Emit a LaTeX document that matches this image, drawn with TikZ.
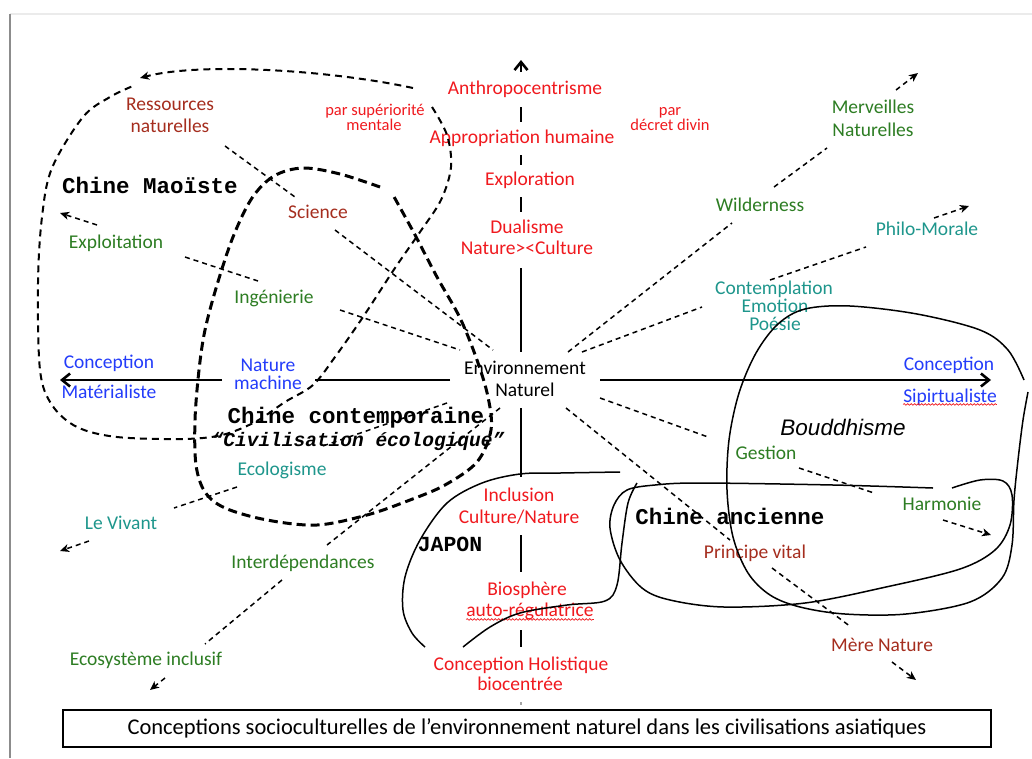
\documentclass[tikz,border=0pt]{standalone}
\usepackage{fontspec}
\setmainfont{Carlito}
\newfontfamily\courf{Liberation Mono}
\newfontfamily\arialf{Liberation Sans}
\usetikzlibrary{arrows.meta,calc,decorations.pathmorphing}
\definecolor{cred}{RGB}{240,25,30}
\definecolor{cdred}{RGB}{165,45,30}
\definecolor{cgreen}{RGB}{45,125,35}
\definecolor{cteal}{RGB}{30,150,140}
\definecolor{cblue}{RGB}{35,60,250}
\begin{document}
\begin{tikzpicture}[x=1pt,y=-1pt,
  lab/.style={inner sep=0pt, text height=0.65em, text depth=0pt, font=\fontsize{19.5}{22}\selectfont},
  small/.style={lab, font=\fontsize{16.5}{18}\selectfont},
  cour/.style={lab, font=\fontsize{22.5}{24}\selectfont\courf\bfseries},
  axis/.style={line width=2.6pt},
  dl/.style={line width=1.5pt, dash pattern=on 5pt off 4pt},
  dla/.style={dl, -dtip},
  mao/.style={line width=2pt, dash pattern=on 7pt off 5pt},
  maothick/.style={line width=3pt, dash pattern=on 9pt off 5pt},
  outline/.style={line width=1.5pt},
  wavy/.style={cred, line width=0.7pt, decorate, decoration={snake, amplitude=0.8pt, segment length=3.5pt}},
  axtip/.tip={Straight Barb[length=8pt,width=13pt]},
  dtip/.tip={Stealth[length=9pt,width=8pt,inset=2.5pt]}
]
\useasboundingbox (0,0) rectangle (1032,758);
\fill[white] (0,0) rectangle (1032,758);
% page frame
\draw[black!8, line width=1.5pt] (10,14) -- (1032,14);
\draw[black!45, line width=2.5pt] (10,14) -- (10,758);

% axis reference points
\coordinate (ax) at (521,0);
\coordinate (hy) at (0,380);
\coordinate (vtop) at (521,60);
\coordinate (hleft) at (60,380);
\coordinate (hright) at (991,380);

% labels on the vertical axis
\node[lab, cred] (anthro) at (525,91) {Anthropocentrisme};
\node[lab, cred] (appro) at (522,140) {Appropriation humaine};
\node[lab, cred] (explo) at (530,182) {Exploration};
\node[lab, cred] (dual1) at (527,230) {Dualisme};
\node[lab, cred] (dual2) at (527,251) {Nature><Culture};
\node[lab] (env1) at (525,371) {Environnement};
\node[lab] (env2) at (525,393) {Naturel};
\node[lab, cred] (incl1) at (519,498) {Inclusion};
\node[lab, cred] (incl2) at (519,520) {Culture/Nature};
\node[lab, cred] (bio1) at (527,592) {Biosphère};
\node[lab, cred] (bio2) at (530,613) {auto-régulatrice};
\node[lab, cred] (holi1) at (521,667) {Conception Holistique};
\node[lab, cred] (holi2) at (520,687) {biocentrée};

% other labels
\node[small, cred] (sup1) at (375,112) {par supériorité};
\node[small, cred] (sup2) at (374,127) {mentale};
\node[small, cred] (div1) at (670,112) {par};
\node[small, cred] (div2) at (670,127) {décret divin};
\node[lab, cdred] (ress1) at (170,107) {Ressources};
\node[lab, cdred] (ress2) at (170,129) {naturelles};
\node[cour] (maoiste) at (150,190) {Chine Maoïste};
\node[lab, cdred] (science) at (318,215) {Science};
\node[lab, cgreen] (exploit) at (116,245) {Exploitation};
\node[lab, cgreen] (ingen) at (274,300) {Ingénierie};
\node[lab, cblue] (concl) at (109,365) {Conception};
\node[lab, cblue] (mater) at (109,395) {Matérialiste};
\node[lab, cblue] (natm1) at (268,368) {Nature};
\node[lab, cblue] (natm2) at (268,386) {machine};
\node[cour] (contemp) at (356,420) {Chine contemporaine};
\node[lab, font=\fontsize{19.5}{22}\selectfont\courf\bfseries\itshape] (civil) at (358,443) {“Civilisation écologique”};
\node[lab, cteal] (ecolog) at (282,472) {Ecologisme};
\node[lab, cteal] (vivant) at (121,526) {Le Vivant};
\node[lab, cgreen] (interd) at (303,565) {Interdépendances};
\node[lab, cgreen] (ecosys) at (146,662) {Ecosystème inclusif};
\node[cour, font=\fontsize{21.5}{24}\selectfont\courf\bfseries] (japon) at (450,548) {JAPON};
\node[lab, cgreen] (merv1) at (873,110) {Merveilles};
\node[lab, cgreen] (merv2) at (873,133) {Naturelles};
\node[lab, cgreen] (wild) at (760,208) {Wilderness};
\node[lab, cteal] (philo) at (927,232) {Philo-Morale};
\node[lab, cteal] (contpl1) at (774,291) {Contemplation};
\node[lab, cteal] (contpl2) at (775,309) {Emotion};
\node[lab, cteal] (contpl3) at (775,327) {Poésie};
\node[lab, cblue] (concr) at (949,367) {Conception};
\node[lab, cblue] (spirit) at (950,399) {Sipirtualiste};
\node[lab, font=\fontsize{22.5}{24}\selectfont\arialf\itshape] (boud) at (843,432) {Bouddhisme};
\node[lab, cgreen] (gestion) at (766,456) {Gestion};
\node[lab, cgreen] (harmonie) at (942,507) {Harmonie};
\node[cour] (ancienne) at (730,521) {Chine ancienne};
\node[lab, cdred] (principe) at (755,555) {Principe vital};
\node[lab, cdred] (mere) at (882,648) {Mère Nature};

% caption
\node[draw, line width=1.2pt, minimum width=928pt, minimum height=37pt, inner sep=0pt,
  font=\fontsize{22.5}{24}\selectfont] (cap) at (527,728.5)
  {Conceptions socioculturelles de l’environnement naturel dans les civilisations asiatiques};

% spelling marks
\draw[wavy] ($(spirit.south west)+(0,2)$) -- ($(spirit.south east)+(0,2)$);
\draw[wavy] ($(bio2.south west)+(0,3)$) -- ($(bio2.south east)+(0,3)$);

% vertical axis
\draw[axis, -axtip] ($(ax |- anthro)+(0,-19)$) -- (vtop);
\draw[axis] ($(ax |- anthro)+(0,16)$) -- ($(ax |- appro)+(0,-18)$);
\draw[axis] ($(ax |- appro)+(0,15)$) -- ($(ax |- explo)+(0,-17)$);
\draw[axis] ($(ax |- explo)+(0,15)$) -- ($(ax |- dual1)+(0,-18)$);
\draw[axis] ($(ax |- dual2)+(0,17)$) -- ($(ax |- env1)+(0,-19)$);
\draw[axis] ($(ax |- env2)+(0,15)$) -- ($(ax |- incl1)+(0,-21)$);
\draw[axis] ($(ax |- incl2)+(0,15)$) -- ($(ax |- bio1)+(0,-20)$);
\draw[axis] ($(ax |- bio2)+(0,17)$) -- ($(ax |- holi1)+(0,-20)$);
\draw[axis, black!35, line width=1.5pt] ($(ax |- holi2)+(0,15)$) -- ($(ax |- holi2)+(0,18)$);

% horizontal axis
\draw[axis] ($(hy -| env1)+(-75,0)$) -- ($(hy -| natm2)+(47,0)$);
\draw[axis, -axtip] ($(hy -| natm2)+(-46,0)$) -- (hleft);
\draw[axis, -axtip] ($(hy -| env1)+(75,0)$) -- (hright);

% regions
\draw[mao, -dtip] (413,88) .. controls (330,70) and (200,62) .. (140,78);
\draw[mao] plot[smooth, tension=0.55] coordinates {(432,107) (447,135) (451,167) (441,200) (420,232) (395,268) (363,317) (335,357) (313,385) (285,402) (255,422) (222,435) (183,439) (117,437) (77,427) (52,405) (40,370) (38,283) (42,217) (52,168) (83,117) (110,97) (133,86)};
\draw[maothick] plot[smooth, tension=0.55] coordinates {(380,187) (340,174) (303,168) (274,176) (252,198) (233,237) (217,285) (205,330) (199,370) (195,420) (196,465) (205,492) (225,508) (267,520) (317,525) (367,515) (410,500) (445,485) (477,462) (491,430) (488,397) (477,360) (460,318) (437,277) (414,233) (393,195)};
\draw[outline] plot[smooth, tension=0.55] coordinates {(1028,392) (1023,420) (1018,460) (1014,500) (1012,545) (1002,578) (970,602) (906,614) (845,614) (800,607) (770,595) (748,573) (733,537) (727,490) (729,440) (739,393) (756,353) (778,324) (805,309) (850,306) (917,314) (980,330) (1008,350) (1024,380)};
\draw[outline] plot[smooth, tension=0.55] coordinates {(933,488) (833,485) (700,483) (655,485) (627,490) (614,505) (610,528) (620,560) (642,588) (670,600) (724,607) (805,603) (886,587) (960,569) (995,550) (1010,525) (1012,495) (1003,481) (980,480) (952,488)};
\draw[outline] plot[smooth, tension=0.55] coordinates {(620,472) (560,473) (520,474) (482,483) (447,503) (420,540) (405,577) (403,610) (412,633) (425,647)};
\draw[outline] plot[smooth, tension=0.55] coordinates {(463,647) (490,627) (520,613) (567,605) (605,601) (617,585) (622,543) (628,503) (637,483)};

% free ends of the outward arrows
\coordinate (a-exploit) at (60,213);
\coordinate (a-merv) at (918,73);
\coordinate (a-philo) at (969,206);
\coordinate (a-harm) at (991,535);
\coordinate (a-mere) at (916,680);
\coordinate (a-vivant) at (60,551);
\coordinate (a-ecosys) at (150,690);

% connectors
\draw[dl] ($(science)+(17,15)$) -- ($(env1)+(-32,-21)$);
\draw[dl] ($(ress1)+(55,39)$) -- ($(science)+(-23,-18)$);
\draw[dl] ($(exploit)+(69,12)$) -- ($(ingen)+(-16,-19)$);
\draw[dl] ($(ingen)+(66,10)$) -- ($(env1)+(-65,-21)$);
\draw[dla] ($(exploit)+(-19,-20)$) -- (a-exploit);
\draw[dl] ($(env1)+(43,-19)$) -- ($(wild)+(-28,15)$);
\draw[dl] ($(wild)+(14,-21)$) -- ($(merv2)+(-46,15)$);
\draw[dla] ($(merv1)+(23,-20)$) -- (a-merv);
\draw[dl] ($(env1)+(57,-19)$) -- ($(contpl1)+(-72,16)$);
\draw[dl] ($(contpl1)+(-4,-11)$) -- ($(philo)+(-61,15)$);
\draw[dla] ($(philo)+(7,-14)$) -- (a-philo);
\draw[dl] ($(env2)+(75,5)$) -- ($(gestion)+(-58,-19)$);
\draw[dl] ($(gestion)+(33,12)$) -- ($(harmonie)+(-68,-14)$);
\draw[dla] ($(harmonie)+(1,13)$) -- (a-harm);
\draw[dl] ($(env2)+(41,15)$) -- ($(principe)+(-25,-15)$);
\draw[dl] ($(principe)+(17,13)$) -- ($(mere)+(-31,-21)$);
\draw[dla] ($(mere)+(10,14)$) -- (a-mere);
\draw[dl] ($(env2)+(-78,10)$) -- ($(ecolog)+(38,-25)$);
\draw[dl] ($(ecolog)+(-45,15)$) -- ($(vivant)+(53,-18)$);
\draw[dla] ($(vivant)+(-32,15)$) -- (a-vivant);
\draw[dl] ($(env2)+(-25,15)$) -- ($(interd)+(24,-20)$);
\draw[dl] ($(interd)+(-21,15)$) -- ($(ecosys)+(59,-18)$);
\draw[dla] ($(ecosys)+(19,16)$) -- (a-ecosys);
\end{tikzpicture}
\end{document}
